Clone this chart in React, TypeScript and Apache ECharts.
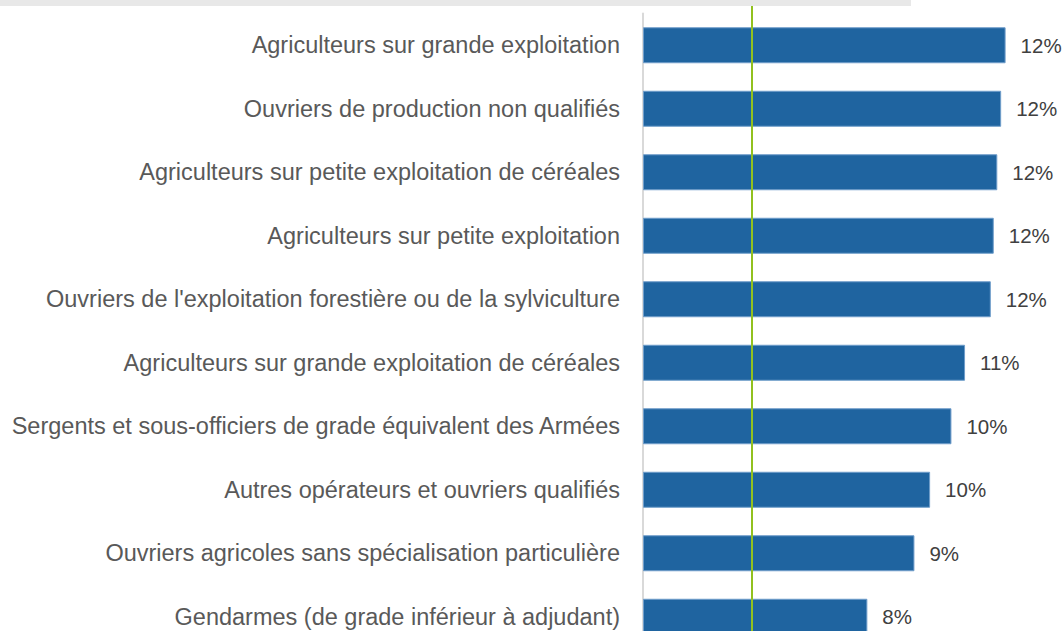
import React, { useEffect, useRef } from "react";
import * as echarts from "echarts";

const categories: string[] = [
  "Agriculteurs sur grande exploitation",
  "Ouvriers de production non qualifiés",
  "Agriculteurs sur petite exploitation de céréales",
  "Agriculteurs sur petite exploitation",
  "Ouvriers de l'exploitation forestière ou de la sylviculture",
  "Agriculteurs sur grande exploitation de céréales",
  "Sergents et sous-officiers de grade équivalent des Armées",
  "Autres opérateurs et ouvriers qualifiés",
  "Ouvriers agricoles sans spécialisation particulière",
  "Gendarmes (de grade inférieur à adjudant)",
];

const values: number[] = [12.25, 12.1, 11.97, 11.85, 11.75, 10.88, 10.42, 9.7, 9.17, 7.58];

const averageValue: number = 3.67;

const FONT = "'Liberation Sans', Arial, sans-serif";

export default function App() {
  const ref = useRef<HTMLDivElement>(null);

  useEffect(() => {
    if (!ref.current) return;
    const chart = echarts.init(ref.current, null, { renderer: "svg" });
    chart.setOption({
      animation: false,
      backgroundColor: "#ffffff",
      textStyle: { fontFamily: FONT },
      graphic: [
        {
          type: "rect",
          left: 0,
          top: 0,
          shape: { x: 0, y: 0, width: 911, height: 6 },
          style: { fill: "#e8e8e8" },
          silent: true,
        },
      ],
      grid: {
        left: 643,
        top: 13.5,
        right: 4.6,
        bottom: -17.5,
        containLabel: false,
        outerBoundsMode: "none",
      },
      xAxis: {
        type: "value",
        min: 0,
        max: 14,
        show: false,
        splitLine: { show: false },
      },
      yAxis: {
        type: "category",
        data: categories,
        inverse: true,
        axisLine: { show: true, lineStyle: { color: "#d9d9d9", width: 2 } },
        axisTick: { show: false },
        axisLabel: {
          margin: 23,
          fontSize: 23.5,
          color: "#595959",
          fontFamily: FONT,
        },
      },
      series: [
        {
          type: "bar",
          data: values,
          barWidth: 36,
          clip: false,
          itemStyle: {
            color: "#1f64a0",
            borderColor: "#6f9dca",
            borderWidth: 1,
          },
          label: {
            show: true,
            position: "right",
            distance: 15,
            fontSize: 20.5,
            color: "#404040",
            fontFamily: FONT,
            formatter: (p: any) => Math.round(p.value) + "%",
          },
          markLine: {
            silent: true,
            symbol: "none",
            label: { show: false },
            lineStyle: { color: "#92c11f", width: 2, type: "solid" },
            data: [
              [
                { coord: [averageValue, 0], y: 6 },
                { coord: [averageValue, categories.length - 1], y: 640 },
              ],
            ],
          },
        },
      ],
    });
    return () => chart.dispose();
  }, []);

  return (
    <div
      ref={ref}
      style={{ position: "absolute", left: 0, top: 0, width: 1062, height: 631 }}
    />
  );
}
